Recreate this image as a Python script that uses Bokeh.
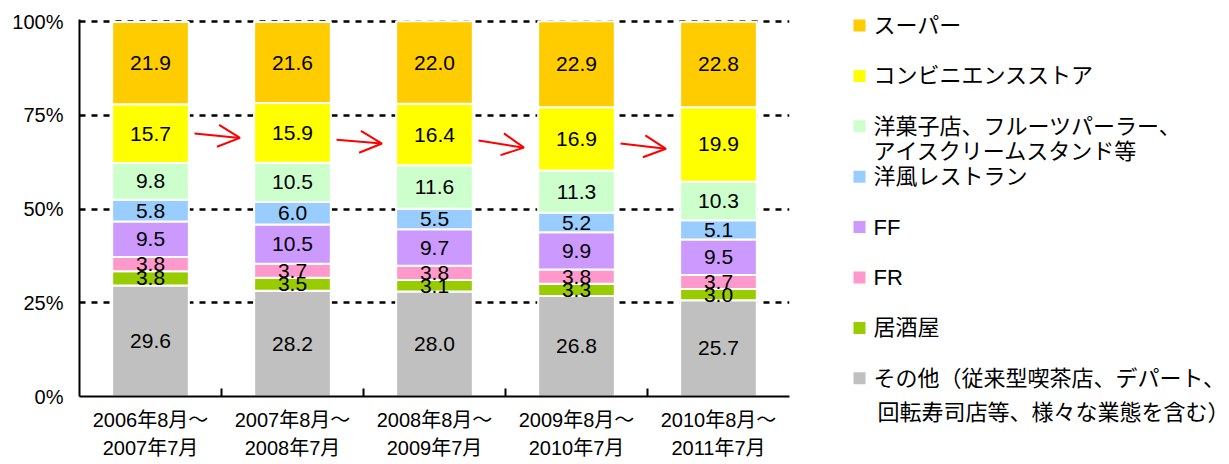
from bokeh.plotting import figure
from bokeh.models import (ColumnDataSource, Range1d, FixedTicker, Arrow, OpenHead)
from bokeh.layouts import row
from bokeh.embed import file_html
from bokeh.resources import INLINE
from bokeh.core.properties import value

# ---- data ----
periods = ["2006年8月～\n2007年7月", "2007年8月～\n2008年7月", "2008年8月～\n2009年7月",
           "2009年8月～\n2010年7月", "2010年8月～\n2011年7月"]
# stack order: bottom -> top
series = ["その他", "居酒屋", "FR", "FF", "洋風", "洋菓子", "コンビニ", "スーパー"]
legend_labels = ["その他（従来型喫茶店、デパート、\n回転寿司店等、様々な業態を含む）", "居酒屋", "FR", "FF",
                 "洋風レストラン", "洋菓子店、フルーツパーラー、\nアイスクリームスタンド等",
                 "コンビニエンスストア", "スーパー"]
colors = ["#C0C0C0", "#99CC00", "#FF99CC", "#CC99FF", "#99CCFF", "#CCFFCC", "#FFFF00", "#FFCC00"]
other = [29.6, 28.2, 28.0, 26.8, 25.7]
izakaya = [3.8, 3.5, 3.1, 3.3, 3.0]
fr = [3.8, 3.7, 3.8, 3.8, 3.7]
ff = [9.5, 10.5, 9.7, 9.9, 9.5]
western = [5.8, 6.0, 5.5, 5.2, 5.1]
sweets = [9.8, 10.5, 11.6, 11.3, 10.3]
konbini = [15.7, 15.9, 16.4, 16.9, 19.9]
super_ = [21.9, 21.6, 22.0, 22.9, 22.8]
values = [other, izakaya, fr, ff, western, sweets, konbini, super_]

y_ticks = [0, 25, 50, 75, 100]
y_tick_labels = ["0%", "25%", "50%", "75%", "100%"]

# red arrows between bars (y in %)
arrow_y_start = [70.2, 68.5, 68.3, 67.5]
arrow_y_end = [69.0, 67.5, 66.4, 66.1]

FONT = "Liberation Sans, Noto Sans CJK JP"

xs = list(range(1, len(periods) + 1))
data = {"x": xs}
for name, vals in zip(series, values):
    data[name] = vals
src = ColumnDataSource(data)

p = figure(width=799, height=464, x_range=Range1d(0.5, len(periods) + 0.5), y_range=Range1d(0, 100.6),
           output_backend="svg", toolbar_location=None,
           min_border_left=79, min_border_right=10, min_border_top=19, min_border_bottom=68)
p.frame_align = False
p.outline_line_color = None
p.xgrid.visible = False
p.ygrid.ticker = FixedTicker(ticks=y_ticks)
p.ygrid.grid_line_color = "black"
p.ygrid.grid_line_width = 2.5
p.ygrid.grid_line_dash = "6 6"

p.vbar_stack(series, x="x", width=0.54, source=src, color=colors,
             line_color="white", line_width=2)

# value labels
lx, ly, lt = [], [], []
for i in range(len(periods)):
    cum = 0.0
    for vals in values:
        v = vals[i]
        lx.append(xs[i]); ly.append(cum + v / 2); lt.append(f"{v:.1f}")
        cum += v
p.text(x=lx, y=ly, text=lt, text_align="center", text_baseline="middle",
       text_font=value(FONT), text_font_size="21px", text_color="black")

# arrows
asrc = ColumnDataSource(dict(
    x0=[x + 0.31 for x in xs[:-1]], x1=[x + 0.63 for x in xs[:-1]],
    y0=arrow_y_start, y1=arrow_y_end))
p.add_layout(Arrow(end=OpenHead(size=22, line_color="red", line_width=2),
                   x_start="x0", y_start="y0", x_end="x1", y_end="y1",
                   line_color="red", line_width=2, source=asrc))

# axes
p.yaxis.ticker = FixedTicker(ticks=y_ticks)
p.yaxis.major_label_overrides = {t: l for t, l in zip(y_ticks, y_tick_labels)}
p.yaxis.axis_line_width = 2
p.yaxis.axis_line_color = "black"
p.yaxis.major_tick_out = 0
p.yaxis.major_tick_in = 0
p.yaxis.minor_tick_line_color = None
p.yaxis.major_label_standoff = 16
p.yaxis.major_label_text_font = FONT
p.yaxis.major_label_text_font_size = "20px"
p.yaxis.major_label_text_color = "black"

p.xaxis.ticker = FixedTicker(ticks=xs, minor_ticks=[x + 0.5 for x in xs[:-1]])
p.xaxis.major_label_overrides = {x: l for x, l in zip(xs, periods)}
p.xaxis.axis_line_width = 2
p.xaxis.axis_line_color = "black"
p.xaxis.major_tick_line_color = None
p.xaxis.minor_tick_in = 8
p.xaxis.minor_tick_out = 0
p.xaxis.minor_tick_line_width = 2
p.xaxis.minor_tick_line_color = "black"
p.xaxis.major_label_standoff = 6
p.xaxis.major_label_text_font = FONT
p.xaxis.major_label_text_font_size = "20px"
p.xaxis.major_label_text_line_height = 1.3
p.xaxis.major_label_text_color = "black"

# legend panel
lf = figure(width=430, height=464, x_range=Range1d(0, 430), y_range=Range1d(464, 0),
            output_backend="svg", toolbar_location=None, min_border=0)
lf.frame_align = False
lf.axis.visible = False
lf.grid.visible = False
lf.outline_line_color = None

order = list(range(len(series)))[::-1]
line_gap = {0: 34}
sq_y, sq_c, tx, ty, tt = [], [], [], [], []
for k, idx in enumerate(order):
    y = 25 + k * 50.4
    sq_y.append(y); sq_c.append(colors[idx])
    for j, line in enumerate(legend_labels[idx].split("\n")):
        tx.append(74 + (4 if (j > 0 and idx == 0) else 0))
        ty.append(y + j * line_gap.get(idx, 25))
        tt.append(line)
lf.scatter(x=[60] * len(sq_y), y=sq_y, marker="square", size=12, color=sq_c, line_color=None)
lf.text(x=tx, y=ty, text=tt, text_baseline="middle", text_align="left",
        text_font=value(FONT), text_font_size="22px", text_color="black")

layout = row(p, lf)
open("out.html", "w").write(file_html(layout, INLINE))
